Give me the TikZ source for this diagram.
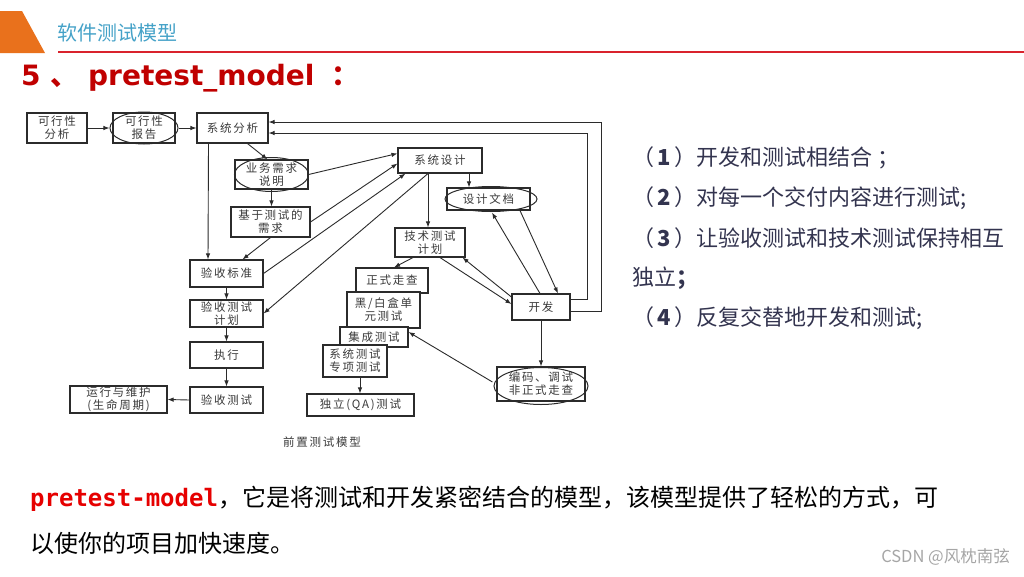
\documentclass[tikz,border=0pt]{standalone}
\usepackage{fontspec}
\usepackage{tikz}
\usetikzlibrary{arrows.meta}
\setmainfont{Noto Sans CJK SC}
\newfontfamily\cjk{Noto Sans CJK SC}
\newfontfamily\diagfont[LetterSpace=15]{Noto Sans CJK SC}
\newfontfamily\headfont{DejaVu Sans}
\newfontfamily\codefont{DejaVu Sans Mono}
\definecolor{HeadOrange}{HTML}{E9711C}
\definecolor{TitleBlue}{HTML}{45A2C8}
\definecolor{RuleRed}{HTML}{D9232D}
\definecolor{HeadRed}{HTML}{C00000}
\definecolor{ListNavy}{HTML}{33344F}
\definecolor{CodeRed}{HTML}{E60000}
\definecolor{LineGray}{HTML}{2B2B2B}
\definecolor{DiagText}{HTML}{3A3A3A}
\definecolor{MarkGray}{HTML}{A6A6A6}

\begin{document}
\begin{tikzpicture}[
  x=1pt,y=-1pt,
  box/.style={rectangle,draw=LineGray,line width=1.1pt,fill=white,inner sep=0.5pt,align=center,font=\diagfont\fontsize{11.5}{13}\selectfont,text=DiagText},
  oval/.style={draw=LineGray,line width=1pt},
  arrow/.style={-{Latex[length=6pt,width=4.5pt]},line width=0.9pt,draw=LineGray},
  item/.style={anchor=west,inner sep=0pt,font=\cjk\fontsize{22}{26}\selectfont,text=ListNavy},
  body/.style={anchor=west,inner sep=0pt,font=\cjk\fontsize{24}{28}\selectfont,text=black}
]
\useasboundingbox (0,0) rectangle (1024,576);
\fill[white] (0,0) rectangle (1024,576);

\fill[HeadOrange] (0,11) -- (22,11) -- (45,53) -- (0,53) -- cycle;
\node[anchor=west,inner sep=0pt,font=\cjk\fontsize{20}{24}\selectfont,text=TitleBlue] (title) at (57,33) {软件测试模型};
\draw[RuleRed,line width=2pt] (58,52) -- (1024,52);
\node[anchor=west,inner sep=0pt,font=\headfont\bfseries\fontsize{28}{32}\selectfont,text=HeadRed] (head) at (21,78) {5 {\cjk 、} pretest\_model\hspace{7pt} {\cjk ：}};

\node[box,minimum width=60,minimum height=30] (feas) at (57,128) {可行性\\分析};
\node[box,minimum width=62,minimum height=30] (rep) at (144,128) {可行性\\报告};
\node[box,minimum width=71,minimum height=30] (sysana) at (232.5,128) {系统分析};
\node[box,minimum width=73,minimum height=29] (bizreq) at (271.5,174.5) {业务需求\\说明};
\node[box,minimum width=79,minimum height=30] (testreq) at (270.5,222) {基于测试的\\需求};
\node[box,minimum width=84,minimum height=25] (sysdes) at (440,160.5) {系统设计};
\node[box,minimum width=83,minimum height=22] (desdoc) at (488.5,199) {设计文档};
\node[box,minimum width=70,minimum height=29] (techtp) at (430,242.5) {技术测试\\计划};
\node[box,minimum width=73,minimum height=27] (accstd) at (226.5,273.5) {验收标准};
\node[box,minimum width=73,minimum height=27] (acctp) at (226.5,313.5) {验收测试\\计划};
\node[box,minimum width=73,minimum height=26] (exec) at (226.5,355) {执行};
\node[box,minimum width=73,minimum height=26] (acctest) at (226.5,400) {验收测试};
\node[box,minimum width=97,minimum height=27] (ops) at (118.5,399.5) {运行与维护\\(生命周期)};
\node[box,minimum width=72,minimum height=25] (walk) at (392,280.5) {正式走查};
\node[box,minimum width=73,minimum height=36] (unit) at (383.5,310) {黑/白盒单\\元测试};
\node[box,minimum width=68,minimum height=20] (integ) at (374,337) {集成测试};
\node[box,minimum width=64,minimum height=32] (systest) at (355,361) {系统测试\\专项测试};
\node[box,minimum width=107,minimum height=22] (qa) at (360.5,405) {独立(QA)测试};
\node[box,minimum width=58,minimum height=26] (dev) at (541,307) {开发};
\node[box,minimum width=88,minimum height=34] (code) at (541,384) {编码、调试\\非正式走查};

\draw[oval] (rep.center) ellipse [x radius=34pt,y radius=16pt];
\draw[oval] (bizreq.center) ellipse [x radius=37pt,y radius=17pt];
\draw[oval] ([xshift=2.5]desdoc.center) ellipse [x radius=46pt,y radius=12.5pt];
\draw[oval] ([yshift=-2]code.center) ellipse [x radius=47pt,y radius=18.5pt];

\coordinate (loopa) at (587,133);
\coordinate (loopb) at (601,122);

\draw[arrow] (feas.east) -- ([xshift=-3]rep.west);
\draw[arrow] ([xshift=3]rep.east) -- (sysana.west);
\draw[arrow] ([xshift=15]sysana.south) -- ([xshift=-4]bizreq.north);
\draw[arrow] ([xshift=-24]sysana.south) -- ([xshift=-18.5]accstd.north);
\draw[arrow] (bizreq.south) -- (bizreq.south |- testreq.north);
\draw[arrow] (bizreq.east) -- ([yshift=7]sysdes.west);
\draw[arrow] (testreq.east) -- ([yshift=-3]sysdes.west);
\draw[arrow] (testreq.south) -- ([xshift=16]accstd.north);
\draw[arrow] (accstd.east) -- ([xshift=8]sysdes.south west);
\draw[arrow] ([xshift=-12]sysdes.south) -- (acctp.east);
\draw[arrow] ([xshift=-12]sysdes.south) -- ([xshift=-2]techtp.north);
\draw[arrow] ([xshift=29]sysdes.south) -- ([xshift=-19.5]desdoc.north);
\draw[arrow] ([xshift=31.5]desdoc.south) -- ([xshift=17]dev.north);
\draw[arrow] ([xshift=-1]dev.north) -- ([xshift=3.5,yshift=-2]desdoc.south);
\draw[arrow] ([xshift=10]techtp.south) -- ([yshift=3]dev.west);
\draw[arrow] ([yshift=10]dev.west) -- ([xshift=-3]techtp.south east);
\draw[arrow] ([xshift=-17]techtp.south) -- ([xshift=2]walk.north);
\draw[arrow] (dev.south) -- (code.north);
\draw[arrow] ([xshift=-4,yshift=2]code.west) -- ([yshift=5]integ.east);
\draw[arrow] ([xshift=5]systest.south) -- ([xshift=-0.5]qa.north);
\draw[arrow] (accstd.south) -- (acctp.north);
\draw[arrow] (acctp.south) -- (exec.north);
\draw[arrow] (exec.south) -- (acctest.north);
\draw[arrow] (acctest.west) -- (ops.east);
\draw[arrow] ([yshift=8]dev.east) -| (loopa) -- ([yshift=-5]sysana.east);
\draw[arrow] ([yshift=-4]dev.east) -| (loopb) -- ([yshift=6]sysana.east);

\node[inner sep=0pt,font=\diagfont\fontsize{11.5}{13}\selectfont,text=DiagText] (cap) at (322,442) {前置测试模型};

\node[item] (li1) at (632,158) {（\,\textbf{1}\,）开发和测试相结合 ；};
\node[item] (li2) at (632,198) {（\,\textbf{2}\,）对每一个交付内容进行测试;};
\node[item] (li3) at (632,238) {（\,\textbf{3}\,）让验收测试和技术测试保持相互};
\node[item] (li3b) at (632,278) {独立\textbf{；}};
\node[item] (li4) at (632,318) {（\,\textbf{4}\,）反复交替地开发和测试;};

\node[body] (body1) at (30,499) {{\codefont\bfseries\color{CodeRed}pretest-model}，它是将测试和开发紧密结合的模型，该模型提供了轻松的方式，可};
\node[body] (body2) at (30,543) {以使你的项目加快速度。};
\node[anchor=east,inner sep=0pt,font=\cjk\fontsize{16.5}{20}\selectfont,text=MarkGray] (mark) at (1010,557) {CSDN @风枕南弦};
\end{tikzpicture}
\end{document}
